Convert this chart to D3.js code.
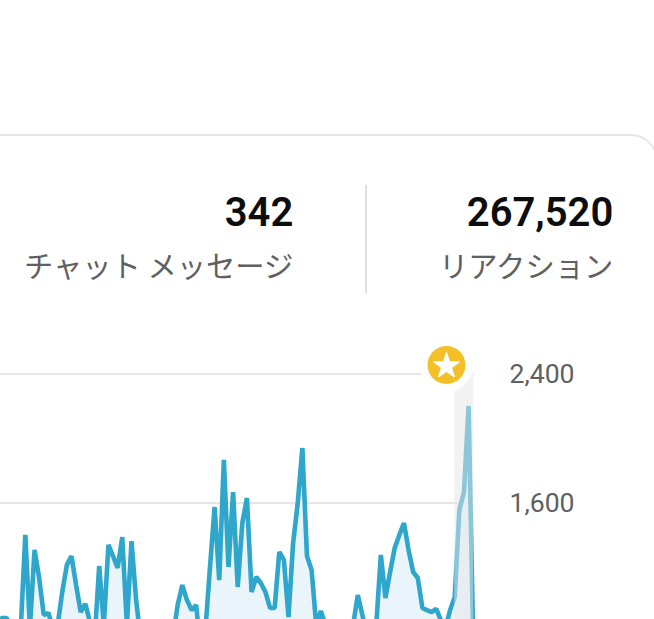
<!DOCTYPE html>
<html lang="ja">
<head>
<meta charset="utf-8">
<script src="https://cdn.jsdelivr.net/npm/d3@7"></script>
<style>
html,body{margin:0;padding:0;background:#fff;overflow:hidden}
svg{display:block}
</style>
</head>
<body>
<svg id="c" width="654" height="619"></svg>
<script>
const statValues = ["342", "267,520"];
const statLabels = ["チャット メッセージ", "リアクション"];
const tickValues = [1600, 2400];
const values = [862,887,887,750,750,812,1402,825,1309,1135,905,918,825,843,1048,1216,1271,1091,924,974,
862,750,1209,843,1340,1271,1197,1389,843,1364,998,750,740,720,760,700,730,760,781,967,
1091,998,936,967,688,812,1203,1575,1122,1867,1203,1668,1079,1476,1631,1048,1141,1104,1048,949,
949,1296,1247,893,1352,1600,1941,1271,1185,843,930,843,688,657,688,720,750,843,1029,905,
781,750,843,1278,1011,1172,1321,1402,1476,1309,1172,1135,949,936,924,943,874,825,936,1017,
1557,1668,2202,750];
const highlightDays = [98.9, 103];

const svg = d3.select("#c");
const x = d3.scaleLinear().domain([0, values.length - 1]).range([-2.4, 473.2]);
const y = d3.scaleLinear().domain([0, 2400]).range([761, 374]);
const FONT = "Roboto, 'Noto Sans CJK JP', sans-serif";

// card
svg.append("rect").attr("x", -40).attr("y", 135).attr("width", 697).attr("height", 560)
  .attr("rx", 26).attr("fill", "#fff").attr("stroke", "#e6e6e6").attr("stroke-width", 2);

// stats
const statRight = [293.3, 613.3];
statValues.forEach((s, i) => {
  svg.append("text").attr("x", statRight[i]).attr("y", 226).attr("text-anchor", "end")
    .attr("font-family", FONT).attr("font-weight", 600).attr("font-size", 40)
    .attr("fill", "#0d0d0d").text(s);
  svg.append("text").attr("x", statRight[i]).attr("y", 277).attr("text-anchor", "end")
    .attr("font-family", "'Noto Sans CJK JP', sans-serif").attr("font-size", 29.3)
    .attr("fill", "#606060").text(statLabels[i]);
});
svg.append("line").attr("x1", 366).attr("x2", 366).attr("y1", 185).attr("y2", 293)
  .attr("stroke", "#e0e0e0").attr("stroke-width", 2);

// grid
svg.append("g").selectAll("line").data(tickValues).join("line")
  .attr("x1", 0).attr("x2", 473).attr("y1", d => y(d)).attr("y2", d => y(d))
  .attr("stroke", "#e6e6e6").attr("stroke-width", 2);

// axis labels
const axis = svg.append("g").attr("transform", "translate(509.5,0)")
  .call(d3.axisRight(y).tickValues(tickValues).tickSize(0).tickPadding(0).tickFormat(d3.format(",")));
axis.select(".domain").remove();
axis.selectAll("text").attr("font-family", FONT).attr("font-size", 26.6).attr("fill", "#606060");

// area + line
const area = d3.area().x((d, i) => x(i)).y0(y(0)).y1(d => y(d));
const line = d3.line().x((d, i) => x(i)).y(d => y(d));
svg.append("path").datum(values).attr("d", area).attr("fill", "#e9f5fa");
svg.append("path").datum(values).attr("d", line).attr("fill", "none")
  .attr("stroke", "#2fa6cc").attr("stroke-width", 4.6).attr("stroke-linejoin", "bevel");

// highlight band
svg.append("rect").attr("x", x(highlightDays[0])).attr("y", y(2400))
  .attr("width", x(highlightDays[1]) - x(highlightDays[0])).attr("height", 400)
  .attr("fill", "#e5e5e5").attr("fill-opacity", 0.51);

// star marker
const mark = svg.append("g").attr("transform", "translate(446.5,365)");
mark.append("circle").attr("r", 27).attr("fill", "#fff");
mark.append("circle").attr("r", 19).attr("fill", "#f3c127");
mark.append("path")
  .attr("d", d3.symbol().type(d3.symbolStar).size(190)())
  .attr("transform", "translate(0,1)")
  .attr("fill", "#fff").attr("stroke", "#fff").attr("stroke-width", 1.5).attr("stroke-linejoin", "round");
</script>
</body>
</html>
